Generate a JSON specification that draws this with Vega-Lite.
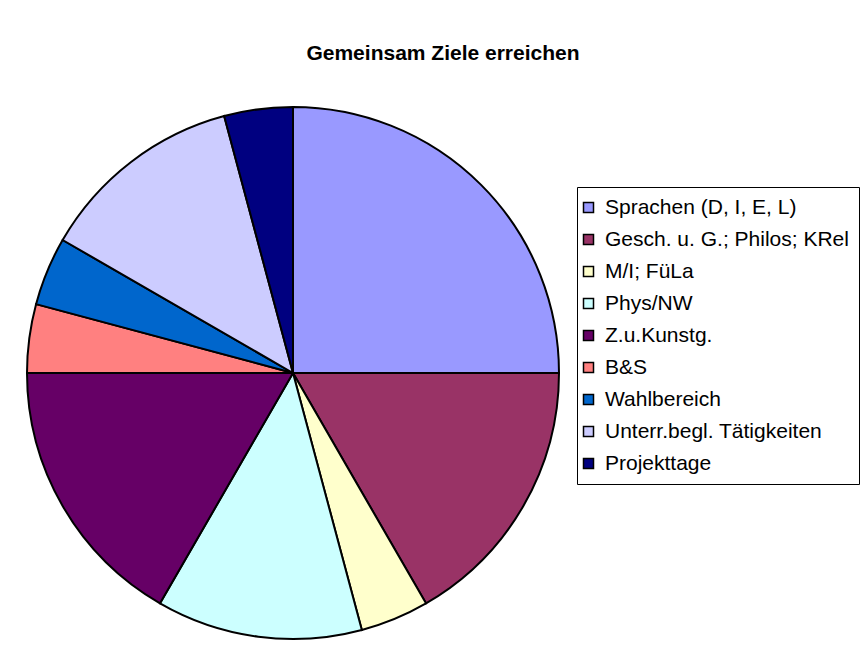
{
  "$schema": "https://vega.github.io/schema/vega-lite/v6.json",
  "width": 532,
  "height": 532,
  "autosize": "none",
  "padding": {"left": 27, "top": 107, "right": 307, "bottom": 18},
  "background": "white",
  "config": {"view": {"stroke": null}, "font": "Liberation Sans"},
  "title": {
    "text": "Gemeinsam Ziele erreichen",
    "font": "Liberation Sans",
    "fontSize": 21,
    "fontWeight": "bold",
    "color": "black",
    "anchor": "middle",
    "dx": 150,
    "offset": 39
  },
  "data": {
    "values": [
      {"Bereich": "Sprachen (D, I, E, L)", "Wert": 6},
      {"Bereich": "Gesch. u. G.; Philos; KRel", "Wert": 4},
      {"Bereich": "M/I; FüLa", "Wert": 1},
      {"Bereich": "Phys/NW", "Wert": 3},
      {"Bereich": "Z.u.Kunstg.", "Wert": 4},
      {"Bereich": "B&S", "Wert": 1},
      {"Bereich": "Wahlbereich", "Wert": 1},
      {"Bereich": "Unterr.begl. Tätigkeiten", "Wert": 3},
      {"Bereich": "Projekttage", "Wert": 1}
    ]
  },
  "transform": [
    {"window": [{"op": "row_number", "as": "idx"}]}
  ],
  "mark": {"type": "arc", "stroke": "black", "strokeWidth": 2},
  "encoding": {
    "theta": {"field": "Wert", "type": "quantitative", "stack": true},
    "order": {"field": "idx", "type": "quantitative", "sort": "ascending"},
    "color": {
      "field": "Bereich",
      "type": "nominal",
      "sort": ["Sprachen (D, I, E, L)", "Gesch. u. G.; Philos; KRel", "M/I; FüLa", "Phys/NW", "Z.u.Kunstg.", "B&S", "Wahlbereich", "Unterr.begl. Tätigkeiten", "Projekttage"],
      "scale": {
        "domain": ["Sprachen (D, I, E, L)", "Gesch. u. G.; Philos; KRel", "M/I; FüLa", "Phys/NW", "Z.u.Kunstg.", "B&S", "Wahlbereich", "Unterr.begl. Tätigkeiten", "Projekttage"],
        "range": ["#9999FF", "#993366", "#FFFFCC", "#CCFFFF", "#660066", "#FF8080", "#0066CC", "#CCCCFF", "#000080"]
      },
      "legend": {
        "title": null,
        "orient": "none",
        "legendX": 550,
        "legendY": 80,
        "symbolType": "square",
        "symbolSize": 100,
        "symbolStrokeColor": "black",
        "symbolStrokeWidth": 1.5,
        "symbolOpacity": 1,
        "symbolOffset": -9,
        "labelFont": "Liberation Sans",
        "labelFontSize": 21,
        "labelColor": "black",
        "labelOffset": 6,
        "labelLimit": 400,
        "rowPadding": 10,
        "padding": 10,
        "strokeColor": "black",
        "fillColor": "white"
      }
    }
  }
}
